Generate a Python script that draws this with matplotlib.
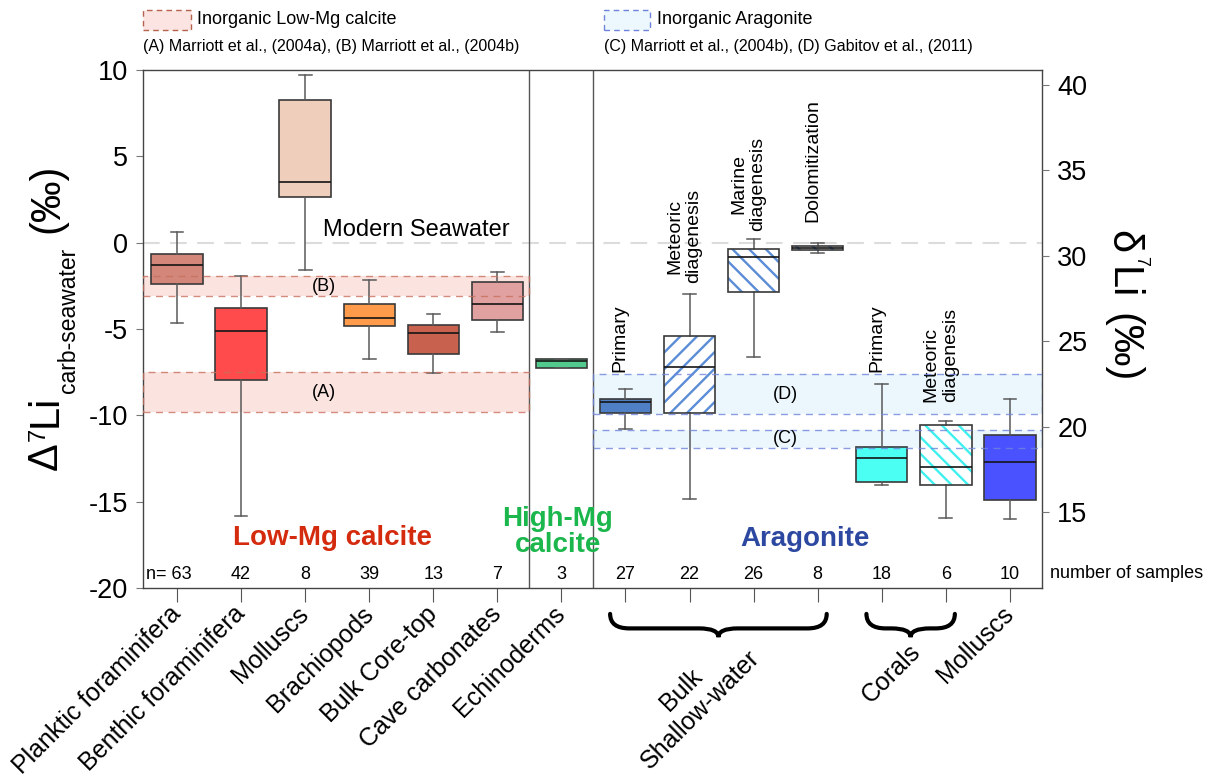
import numpy as np
import matplotlib
matplotlib.use('Agg')
import matplotlib.pyplot as plt
import matplotlib.patches as mpatches
import matplotlib.transforms as mtransforms
from matplotlib.path import Path

plt.rcParams['font.family'] = ['Liberation Sans', 'DejaVu Sans']
plt.rcParams['mathtext.fontset'] = 'custom'
plt.rcParams['mathtext.rm'] = 'Liberation Sans'
plt.rcParams['mathtext.it'] = 'Liberation Sans:italic'
plt.rcParams['hatch.linewidth'] = 1.7

# ---------------- data ----------------
categories = ['Planktic foraminifera', 'Benthic foraminifera', 'Molluscs (LMC)', 'Brachiopods',
              'Bulk Core-top', 'Cave carbonates', 'Echinoderms',
              'Bulk primary', 'Bulk meteoric diagenesis', 'Bulk marine diagenesis', 'Bulk dolomitization',
              'Corals primary', 'Corals meteoric diagenesis', 'Molluscs (aragonite)']
tick_labels = ['Planktic foraminifera', 'Benthic foraminifera', 'Molluscs', 'Brachiopods',
               'Bulk Core-top', 'Cave carbonates', 'Echinoderms', '', '', '', '', '', '', 'Molluscs']
n_samples = [63, 42, 8, 39, 13, 7, 3, 27, 22, 26, 8, 18, 6, 10]

whisker_high = [0.60, -1.91, 9.69, -2.16, -4.15, -1.68, -6.75, -8.49, -2.99, 0.23, 0.00, -8.16, -10.34, -9.07]
q3 = [-0.67, -3.78, 8.24, -3.55, -4.75, -2.29, -6.75, -9.07, -5.40, -0.38, -0.17, -11.85, -10.57, -11.15]
median = [-1.31, -5.11, 3.53, -4.36, -5.25, -3.57, -6.87, -9.22, -7.20, -0.81, -0.30, -12.49, -13.00, -12.72]
q1 = [-2.37, -7.97, 2.65, -4.84, -6.45, -4.46, -7.27, -9.84, -9.84, -2.85, -0.44, -13.87, -14.03, -14.92]
whisker_low = [-4.65, -15.83, -1.58, -6.72, -7.54, -5.19, -7.27, -10.77, -14.86, -6.64, -0.62, -14.03, -15.96, -16.02]

face_colors = ['#d2877a', '#ff4b4b', '#f0cebc', '#ff9b4a', '#c8624f', '#e0a1a0', '#52c98d',
               '#4f80c6', 'white', 'white', 'white', '#4bfff2', 'white', '#4a52ff']
hatches = [None, None, None, None, None, None, None, None, '//', '\\\\', '\\\\', None, '\\\\', None]
hatch_colors = [None] * 8 + ['#5b8dd6', '#5b8dd6', '#5b8dd6', None, '#3ff0ee', None]

group_names = ['Low-Mg calcite', 'High-Mg\ncalcite', 'Aragonite']
group_colors = ['#d42b0e', '#1bb64c', '#2c48a0']

lmc_band_labels = ['(A)', '(B)']
lmc_band_low = [-9.80, -3.09]
lmc_band_high = [-7.51, -1.93]
arag_band_labels = ['(C)', '(D)']
arag_band_low = [-11.87, -9.94]
arag_band_high = [-10.85, -7.62]
seawater = 0.0

sub_labels = ['Primary', 'Meteoric\ndiagenesis', 'Marine\ndiagenesis', 'Dolomitization',
              'Primary', 'Meteoric\ndiagenesis']
sub_label_cats = [8, 9, 10, 11, 12, 13]
sub_label_bottom = [-7.49, -2.34, 0.68, 1.20, -7.49, -9.23]
sub_label_align = ['center', 'center', 'center', 'center', 'center', 'left']

# ---------------- figure ----------------
W, H = 1215, 782
fig = plt.figure(figsize=(W / 100, H / 100), dpi=100)
ax = fig.add_axes([143 / W, 1 - 588 / H, 899 / W, 518 / H])
pos = np.arange(1, len(categories) + 1)
x_left, x_right = 0.47, 14.5
sep = [6.5, 7.5]

stats = [dict(med=m, q1=a, q3=b, whislo=lo, whishi=hi, fliers=[], label=c)
         for m, a, b, lo, hi, c in zip(median, q1, q3, whisker_low, whisker_high, categories)]
bp = ax.bxp(stats, positions=pos, widths=0.8, capwidths=0.2, patch_artist=True, showfliers=False,
            boxprops=dict(edgecolor='#3a3a3a', linewidth=1.2),
            medianprops=dict(color='#151515', linewidth=1.2),
            whiskerprops=dict(color='#5a5a5a', linewidth=1.1),
            capprops=dict(color='#5a5a5a', linewidth=1.1), zorder=3)
for patch, fc, h, hc in zip(bp['boxes'], face_colors, hatches, hatch_colors):
    patch.set_facecolor(fc)
    if h is not None:
        patch.set_hatch(h)
        patch.set_edgecolor(hc)
        patch.set_linewidth(0)
        outline = mpatches.PathPatch(patch.get_path(), transform=patch.get_transform(),
                                     facecolor='none', edgecolor='#3a3a3a', lw=1.2,
                                     zorder=patch.get_zorder() + 0.05)
        ax.add_patch(outline)

# inorganic bands
for lo, hi, lab in zip(lmc_band_low, lmc_band_high, lmc_band_labels):
    ax.add_patch(mpatches.Rectangle((x_left, lo), sep[0] - x_left, hi - lo, facecolor='#fbe3e0',
                                    edgecolor='none', zorder=1))
    ax.add_patch(mpatches.Rectangle((x_left, lo), sep[0] - x_left, hi - lo, facecolor='none',
                                    edgecolor='#c8705c', ls=(0, (5, 4)), lw=1, alpha=0.8, zorder=4))
    ax.text(3.3, (lo + hi) / 2, lab, ha='center', va='center', fontsize=13, zorder=5)
for lo, hi, lab in zip(arag_band_low, arag_band_high, arag_band_labels):
    ax.add_patch(mpatches.Rectangle((sep[1], lo), x_right - sep[1], hi - lo, facecolor='#ebf7fd',
                                    edgecolor='none', zorder=1))
    ax.add_patch(mpatches.Rectangle((sep[1], lo), x_right - sep[1], hi - lo, facecolor='none',
                                    edgecolor='#6e84dc', ls=(0, (5, 4)), lw=1, alpha=0.8, zorder=4))
    ax.text(10.49, (lo + hi) / 2, lab, ha='center', va='center', fontsize=13, zorder=5)

ax.axhline(seawater, color='#dcdcdc', lw=1.5, ls=(0, (8, 5)), zorder=1.5)
ax.text(4.74, seawater + 0.74, 'Modern Seawater', ha='center', va='center', fontsize=17)
for s in sep:
    ax.axvline(s, color='#555555', lw=1, zorder=2)

ax.set_xlim(x_left, x_right)
ax.set_ylim(-20, 10)
yt = [-20, -15, -10, -5, 0, 5, 10]
ax.set_yticks(yt)
ax.set_yticklabels([str(v) for v in yt], fontsize=19.5)
ax.set_xticks(pos)
ax.set_xticklabels(tick_labels, rotation=45, ha='right', va='center', rotation_mode='anchor', fontsize=18)
ax.tick_params(axis='x', length=10, pad=6, color='#555555')
ax.tick_params(axis='y', length=5, color='#777777', pad=6)
for sp in ax.spines.values():
    sp.set_color('#444444')
    sp.set_linewidth(1)

ax2 = ax.twinx()
ax2.set_ylim(10.55, 40.88)
rt = [15, 20, 25, 30, 35, 40]
ax2.set_yticks(rt)
ax2.set_yticklabels([str(v) for v in rt], fontsize=19.5)
ax2.tick_params(axis='y', length=5, color='#777777', pad=6)
for sp in ax2.spines.values():
    sp.set_visible(False)

# sample counts
blend = mtransforms.blended_transform_factory(ax.transData, ax.transAxes)
for i, (p, n) in enumerate(zip(pos, n_samples)):
    if i == 0:
        ax.text(p - 0.12, 0.027, 'n= %d' % n, transform=blend, ha='center', va='center', fontsize=13)
    else:
        ax.text(p, 0.027, str(n), transform=blend, ha='center', va='center', fontsize=13)
fig.text(1050 / W, 1 - 574 / H, 'number of samples', ha='left', va='center', fontsize=13)

# group names
ax.text(3.43, -17.1, group_names[0], color=group_colors[0], fontsize=20, fontweight='bold',
        ha='center', va='center')
ax.text(6.94, -16.75, group_names[1], color=group_colors[1], fontsize=20, fontweight='bold',
        ha='center', va='center', linespacing=1.0)
ax.text(10.8, -17.15, group_names[2], color=group_colors[2], fontsize=20, fontweight='bold',
        ha='center', va='center')

# sub labels (rotated)
for lab, c, yb, al in zip(sub_labels, sub_label_cats, sub_label_bottom, sub_label_align):
    ax.text(c - 0.08, yb, lab, rotation=90, ha='center', va='bottom', multialignment=al,
            fontsize=14, linespacing=1.15)

# braces
def brace(x0, x1, y_top, y_mid, y_tip, r):
    xc = (x0 + x1) / 2
    verts = [(x0, y_top), (x0, y_mid), (x0 + r, y_mid), (xc - r, y_mid), (xc, y_mid), (xc, y_tip),
             (xc, y_mid), (xc + r, y_mid), (x1 - r, y_mid), (x1, y_mid), (x1, y_top)]
    codes = [Path.MOVETO, Path.CURVE3, Path.CURVE3, Path.LINETO, Path.CURVE3, Path.CURVE3,
             Path.CURVE3, Path.CURVE3, Path.LINETO, Path.CURVE3, Path.CURVE3]
    pp = mpatches.PathPatch(Path(verts, codes), transform=blend, facecolor='none', edgecolor='black',
                            lw=3, clip_on=False, capstyle='round')
    ax.add_patch(pp)

bulk_members = [8, 9, 10, 11]
coral_members = [12, 13]
brace(min(bulk_members) - 0.24, max(bulk_members) + 0.14, -0.050, -0.078, -0.095, 0.3)
brace(min(coral_members) - 0.24, max(coral_members) + 0.14, -0.050, -0.078, -0.095, 0.3)
ax.text(9.02, -0.216, 'Bulk\nShallow-water', transform=blend, rotation=45, ha='center', va='center',
        multialignment='center', fontsize=18)
ax.text(12.15, -0.166, 'Corals', transform=blend, rotation=45, ha='center', va='center', fontsize=18)

# axis labels built from pieces
def ftext(x, y, s, **kw):
    return fig.text(x / W, 1 - y / H, s, **kw)

lk = dict(rotation=90, rotation_mode='anchor', ha='left', va='baseline')
ftext(57, 470, '\u0394', fontsize=30, **lk)
ftext(45, 441, '7', fontsize=17, **lk)
ftext(57, 427, 'Li', fontsize=30, **lk)
ftext(75, 393, 'carb-seawater', fontsize=16.5, **lk)
ftext(58, 233, '(\u2030)', fontsize=30, **lk)

rk = dict(rotation=270, rotation_mode='anchor', ha='left', va='baseline')
ftext(1111, 230, '\u03b4', fontsize=30, **rk)
ftext(1136, 256, '7', fontsize=13, **rk)
ftext(1111, 267, 'Li', fontsize=30, **rk)
ftext(1111, 313, '(\u2030)', fontsize=30, **rk)

# top legend
fig.add_artist(mpatches.Rectangle((143 / W, 1 - 30 / H), 48 / W, 20 / H, transform=fig.transFigure,
                                  facecolor='#fbe4e1', edgecolor='#b5624f', ls=(0, (4, 3)), lw=1))
ftext(197, 20, 'Inorganic Low-Mg calcite', fontsize=13, ha='left', va='center')
ftext(143, 47, '(A) Marriott et al., (2004a), (B) Marriott et al., (2004b)', fontsize=11.5,
      ha='left', va='center')
fig.add_artist(mpatches.Rectangle((604 / W, 1 - 30 / H), 46 / W, 20 / H, transform=fig.transFigure,
                                  facecolor='#ecf8fd', edgecolor='#6e84dc', ls=(0, (4, 3)), lw=1))
ftext(657, 20, 'Inorganic Aragonite', fontsize=13, ha='left', va='center')
ftext(604, 47, '(C) Marriott et al., (2004b), (D) Gabitov et al., (2011)', fontsize=11.5,
      ha='left', va='center')

fig.savefig('out.png', dpi=100)
